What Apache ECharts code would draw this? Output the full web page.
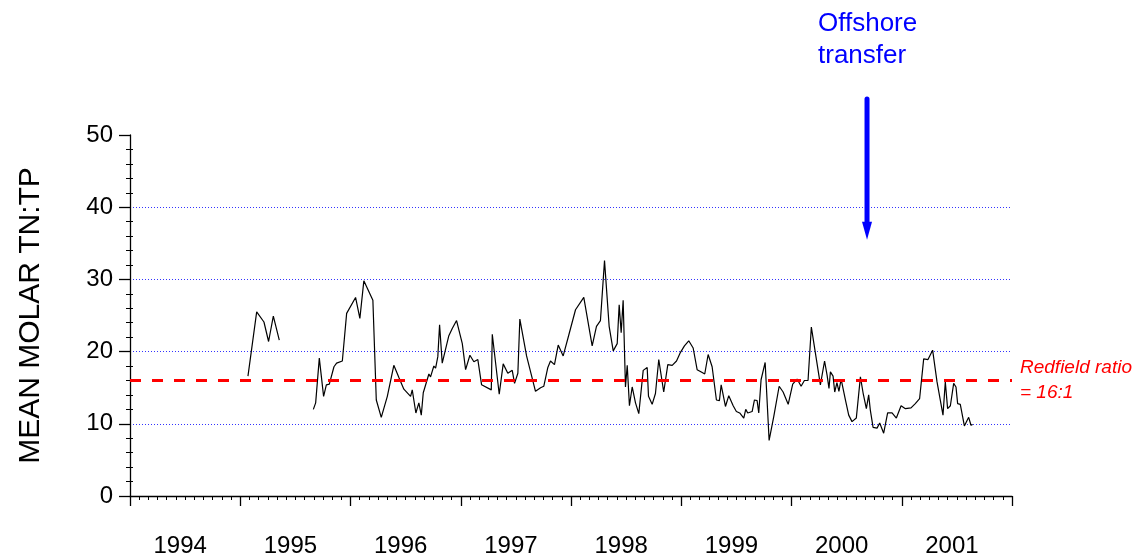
<!DOCTYPE html>
<html>
<head>
    <meta charset="utf-8">
    <title>Mean molar TN:TP</title>
    <script src="https://cdn.jsdelivr.net/npm/echarts@6/dist/echarts.min.js"></script>
</head>
<body style="margin:0;">
<div id="main" style="width: 1137px;height:558px;"></div>

<script type="text/javascript">
    // sample dates (decimal year) and mean molar TN:TP, null = gap in record
    var years = [
        1995.070, 1995.149, 1995.215, 1995.257, 1995.300, 1995.354,
        1995.500,
        1995.663, 1995.684, 1995.717, 1995.735, 1995.756, 1995.781, 1995.808, 1995.850, 1995.874, 1995.926,
        1995.965, 1996.046, 1996.085, 1996.121, 1996.203, 1996.234, 1996.279, 1996.334, 1996.393, 1996.439,
        1996.484, 1996.545, 1996.560, 1996.593, 1996.620, 1996.642, 1996.660, 1996.678, 1996.711, 1996.726,
        1996.756, 1996.772, 1996.792, 1996.808, 1996.832, 1996.892, 1996.923, 1996.962, 1997.014, 1997.044,
        1997.083, 1997.119, 1997.155, 1997.189, 1997.277, 1997.286, 1997.349, 1997.385, 1997.427, 1997.467,
        1997.488, 1997.518, 1997.536, 1997.554, 1997.597, 1997.678, 1997.724, 1997.753, 1997.790, 1997.814,
        1997.850, 1997.884, 1997.929, 1997.980, 1998.041, 1998.116, 1998.192, 1998.231, 1998.267, 1998.304,
        1998.346, 1998.383, 1998.419, 1998.437, 1998.455, 1998.473, 1998.494, 1998.510, 1998.530, 1998.555,
        1998.585, 1998.615, 1998.655, 1998.691, 1998.703, 1998.736, 1998.766, 1998.796, 1998.841, 1998.878,
        1998.918, 1998.957, 1998.993, 1999.029, 1999.068, 1999.108, 1999.144, 1999.190, 1999.213, 1999.244,
        1999.280, 1999.319, 1999.346, 1999.362, 1999.401, 1999.431, 1999.471, 1999.500, 1999.530, 1999.567,
        1999.585, 1999.603, 1999.643, 1999.664, 1999.688, 1999.703, 1999.724, 1999.761, 1999.797, 1999.839,
        1999.888, 1999.924, 1999.970, 2000.011, 2000.051, 2000.087, 2000.117, 2000.150, 2000.180, 2000.262,
        2000.300, 2000.323, 2000.340, 2000.353, 2000.377, 2000.392, 2000.412, 2000.430, 2000.450, 2000.489,
        2000.519, 2000.549, 2000.588, 2000.625, 2000.649, 2000.679, 2000.700, 2000.715, 2000.740, 2000.776,
        2000.800, 2000.836, 2000.872, 2000.912, 2000.951, 2000.994, 2001.033, 2001.084, 2001.123, 2001.162,
        2001.199, 2001.238, 2001.280, 2001.320, 2001.374, 2001.395, 2001.416, 2001.441, 2001.471, 2001.492,
        2001.507, 2001.531, 2001.568, 2001.607, 2001.628, 2001.643
    ];
    var ratios = [
        16.6, 25.5, 24.1, 21.4, 24.9, 21.6,
        null,
        12.0, 12.9, 19.1, 19.3, 13.8, 15.4, 15.5, 17.9, 18.4, 18.7,
        25.3, 27.5, 24.6, 29.8, 27.1, 13.3, 10.9, 13.8, 18.1, 16.4,
        14.8, 13.8, 14.7, 11.5, 12.9, 11.2, 14.3, 14.1, 16.9, 16.5,
        18.0, 17.7, 19.3, 23.7, 18.4, 22.2, 23.2, 24.3, 21.1, 17.5,
        19.5, 18.6, 18.9, 15.4, 14.7, 22.4, 14.1, 18.3, 17.0, 17.4,
        15.6, 17.0, 24.5, 24.7, 19.4, 14.5, 15.0, 15.2, 17.8, 18.7,
        18.2, 20.9, 19.4, 22.3, 25.8, 27.5, 20.8, 23.5, 24.3, 32.6,
        23.5, 20.1, 21.1, 26.5, 22.6, 27.1, 15.1, 18.1, 12.5, 15.1,
        12.9, 11.4, 17.4, 17.8, 13.8, 12.7, 14.2, 18.9, 14.4, 18.2,
        18.1, 18.7, 19.9, 20.8, 21.5, 20.5, 17.5, 17.1, 16.9, 19.6,
        17.9, 13.3, 13.2, 15.4, 12.4, 13.9, 12.5, 11.7, 11.5, 10.8,
        12.0, 11.5, 11.7, 13.3, 13.2, 11.5, 16.1, 18.5, 7.7, 11.0,
        15.2, 14.4, 12.7, 15.5, 16.2, 15.2, 16.0, 16.0, 23.4, 15.4,
        18.7, 16.7, 14.9, 17.2, 16.6, 14.4, 15.7, 14.5, 16.2, 13.3,
        11.2, 10.3, 10.8, 16.5, 14.3, 12.1, 14.0, 11.9, 9.5, 9.4,
        10.1, 8.7, 11.5, 11.5, 10.8, 12.5, 12.1, 12.2, 12.8, 13.5,
        19.0, 18.9, 20.2, 15.8, 11.2, 15.8, 12.1, 12.5, 15.6, 15.1,
        12.8, 12.7, 9.7, 10.9, 9.8, 9.9
    ];

    var redfield = 16;
    // arrow marking the offshore transfer
    var arrowYear = 2000.685;
    var arrowFrom = 55;
    var arrowTo = 35.5;

    var font = 'Liberation Sans, Arial, sans-serif';

    var seriesData = years.map(function (y, i) {
        return [y, ratios[i] === null ? '-' : ratios[i]];
    });

    var chart = echarts.init(document.getElementById('main'));

    var option = {
        animation: false,
        backgroundColor: '#fff',
        grid: {
            left: 130, right: 125, top: 135, bottom: 62,
            containLabel: false, outerBoundsMode: 'none'
        },
        xAxis: [{
            type: 'value',
            position: 'bottom',
            min: 1994, max: 2002, interval: 1,
            axisLine: {lineStyle: {color: '#000', width: 1.3}},
            axisTick: {show: true, length: 10, lineStyle: {color: '#000', width: 1.3}},
            minorTick: {show: true, splitNumber: 12, length: 4, lineStyle: {color: '#000', width: 1}},
            axisLabel: {show: false},
            splitLine: {show: false}
        }, {
            type: 'value',
            position: 'bottom',
            min: 1994, max: 2002, interval: 0.5,
            axisLine: {show: false},
            axisTick: {show: false},
            splitLine: {show: false},
            axisLabel: {
                show: true, margin: 38, fontSize: 24, color: '#000', fontFamily: font,
                padding: [0, 10, 0, 0],
                formatter: function (v) {
                    return (v % 1 === 0.5) ? String(Math.floor(v)) : '';
                }
            }
        }],
        yAxis: [{
            type: 'value',
            position: 'left',
            min: 0, max: 50, interval: 10,
            name: 'MEAN MOLAR TN:TP',
            nameLocation: 'middle',
            nameGap: 84,
            nameTextStyle: {fontSize: 30, color: '#000', fontFamily: font},
            axisLine: {show: true, lineStyle: {color: '#000', width: 1.3}},
            axisTick: {show: true, length: 11, lineStyle: {color: '#000', width: 1.3}},
            minorTick: {show: true, splitNumber: 5, length: 4, lineStyle: {color: '#000', width: 1}},
            axisLabel: {margin: 17, fontSize: 24, color: '#000', fontFamily: font},
            splitLine: {
                show: true, showMinLine: false, showMaxLine: false,
                lineStyle: {color: '#0000ff', width: 1, type: [1, 2], opacity: 0.8}
            }
        }, {
            // minor ticks that poke into the plot area
            type: 'value',
            position: 'left',
            min: 0, max: 50, interval: 10,
            axisLine: {show: false},
            axisTick: {show: false, inside: true},
            minorTick: {show: true, splitNumber: 5, length: 3, lineStyle: {color: '#000', width: 1}},
            axisLabel: {show: false},
            splitLine: {show: false}
        }],
        series: [{
            name: 'TN:TP',
            type: 'line',
            xAxisIndex: 0,
            yAxisIndex: 0,
            data: seriesData,
            showSymbol: false,
            connectNulls: false,
            lineStyle: {color: '#000', width: 1.2},
            markLine: {
                silent: true,
                symbol: ['none', 'none'],
                lineStyle: {color: '#ff0000', width: 3, type: [11, 11]},
                label: {
                    show: true, position: 'end', distance: 8,
                    formatter: 'Redfield ratio\n= 16:1',
                    color: '#ff0000', fontStyle: 'italic', fontSize: 19, lineHeight: 25,
                    fontFamily: font, align: 'left'
                },
                data: [{yAxis: redfield}]
            }
        }]
    };

    chart.setOption(option);

    // offshore transfer annotation
    var pTop = chart.convertToPixel({xAxisIndex: 0, yAxisIndex: 0}, [arrowYear, arrowFrom]);
    var pTip = chart.convertToPixel({xAxisIndex: 0, yAxisIndex: 0}, [arrowYear, arrowTo]);
    var headLen = 18, headHalf = 5;

    chart.setOption({
        graphic: [{
            type: 'line',
            shape: {x1: pTop[0], y1: pTop[1], x2: pTip[0], y2: pTip[1] - headLen + 2},
            style: {stroke: '#0000ff', lineWidth: 5, lineCap: 'round'},
            z: 100
        }, {
            type: 'polygon',
            shape: {points: [[pTip[0] - headHalf, pTip[1] - headLen], [pTip[0] + headHalf, pTip[1] - headLen], [pTip[0], pTip[1]]]},
            style: {fill: '#0000ff'},
            z: 100
        }, {
            type: 'text',
            left: 818,
            top: 8,
            style: {
                text: 'Offshore\ntransfer',
                fill: '#0000ff',
                font: '26px ' + font,
                lineHeight: 32
            },
            z: 100
        }]
    });
</script>
</body>
</html>
